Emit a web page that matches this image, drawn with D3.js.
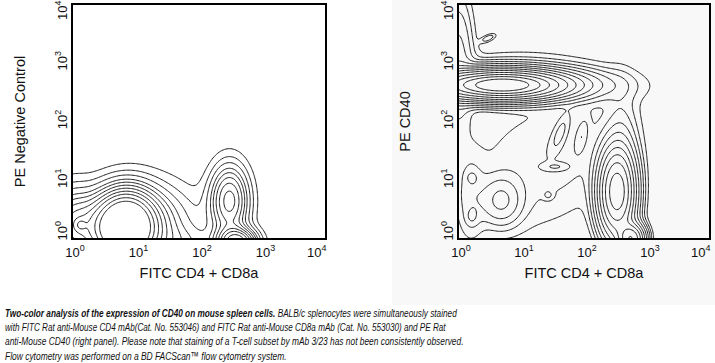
<!DOCTYPE html>
<html>
<head>
<meta charset="utf-8">
<script src="https://cdn.jsdelivr.net/npm/d3@7"></script>
<style>
  body { margin: 0; background: #fff; }
  svg { display: block; font-family: "Liberation Sans", Arial, sans-serif; }
</style>
</head>
<body>
<script>
// Two flow cytometry contour panels (log decades 10^0 .. 10^4)

const w = 715;
const h = 363;

const tickValues = [1, 10, 100, 1000, 10000];
const tickExponents = ["0", "1", "2", "3", "4"];

const xTitle = "FITC CD4 + CD8a";
const yTitles = ["PE Negative Control", "PE CD40"];

// cell populations, in log10 units:
// [centre x, centre y, spread x, spread y, peak height, correlation]
const leftPops = [
  [0.85, 0.20, 0.30, 0.40, 0.70, 0],
  [0.70, 0.20, 0.65, 0.40, 0.30, 0],
  [0.00, 0.30, 0.20, 0.40, 0.12, 0],
  [0.13, 0.24, 0.06, 0.07, 0.08, 0],
  [1.35, 0.50, 0.45, 0.45, 0.045, 0],
  [2.48, 0.65, 0.20, 0.40, 0.35, 0],
  [2.60, -0.05, 0.20, 0.15, 0.50, 0],
  [1.80, -0.10, 0.35, 0.20, 0.08, 0]
];

const rightPops = [
  [0.70, 2.62, 0.58, 0.14, 1.00, 0],
  [0.90, 2.80, 0.70, 0.25, 0.010, 0],
  [0.00, 3.00, 0.15, 0.70, 0.030, 0],
  [0.48, 3.42, 0.08, 0.05, 0.012, 0.6],
  [2.00, 2.62, 0.55, 0.18, 0.015, 0],
  [1.30, 1.40, 0.90, 0.80, 0.012, 0.3],
  [2.60, 1.30, 0.15, 0.70, 0.020, 0],
  [2.52, 0.80, 0.16, 0.42, 0.40, 0],
  [2.75, 0.00, 0.12, 0.15, 0.30, 0],
  [0.68, 0.65, 0.20, 0.25, 0.040, 0],
  [0.20, 0.70, 0.15, 0.50, 0.015, 0],
  [0.22, 1.05, 0.06, 0.07, 0.012, 0],
  [0.22, 0.38, 0.06, 0.09, 0.012, 0],
  [1.43, 0.75, 0.05, 0.05, 0.010, 0],
  [1.62, 1.80, 0.10, 0.22, 0.020, 0.7],
  [1.96, 1.74, 0.07, 0.20, 0.015, 0.5],
  [1.55, 1.23, 0.14, 0.05, 0.015, 0]
];

// contour levels (relative to the tallest population)
const leftLevels = [0.03, 0.06, 0.094, 0.135, 0.172, 0.216, 0.267, 0.325, 0.389, 0.472, 0.561];
const rightLevels = [0.004, 0.008, 0.014, 0.024, 0.04, 0.065, 0.1, 0.15, 0.22, 0.32, 0.45, 0.6, 0.78];

const captionLines = [
  [["Two-color analysis of the expression of CD40 on mouse spleen cells.", true],
   [" BALB/c splenocytes were simultaneously stained", false]],
  [["with FITC Rat anti-Mouse CD4 mAb(Cat. No. 553046) and FITC Rat anti-Mouse CD8a mAb (Cat. No. 553030) and PE Rat", false]],
  [["anti-Mouse CD40 (right panel). Please note that staining of a T-cell subset by mAb 3/23 has not been consistently observed.", false]],
  [["Flow cytometry was performed on a BD FACScan\u2122 flow cytometry system.", false]]
];
const captionWidths = [452, 441, 459, 282];

const svg = d3.select("body")
  .append("svg")
  .attr("width", w)
  .attr("height", h);

// faint grey backdrop behind the right image
svg.append("rect")
  .attr("x", 392).attr("y", 0)
  .attr("width", w - 392).attr("height", 305)
  .attr("fill", "#f8f8f8");

const panels = [
  { left: 72, right: 326, top: 4, bottom: 239, pops: leftPops, levels: leftLevels, yTitle: yTitles[0], titleX: 20 },
  { left: 458, right: 710, top: 4, bottom: 239, pops: rightPops, levels: rightLevels, yTitle: yTitles[1], titleX: 405 }
];

const n = 201;
const step = 4 / (n - 1);

function density(pops, lx, ly) {
  let s = 0;
  for (const [cx, cy, sx, sy, a, r] of pops) {
    const u = (lx - cx) / sx, v = (ly - cy) / sy;
    const q = (u * u - 2 * r * u * v + v * v) / (1 - r * r);
    s += a * Math.exp(-0.5 * q);
  }
  return s;
}

function tenTo(sel) {
  sel.each(function(d) {
    const t = d3.select(this);
    t.append("tspan").text("10");
    t.append("tspan").attr("font-size", 9).attr("dy", -6)
      .text(tickExponents[tickValues.indexOf(d)]);
  });
}

panels.forEach((p, i) => {
  const x_scale = d3.scaleLog().domain([1, 10000]).range([p.left, p.right]);
  const y_scale = d3.scaleLog().domain([1, 10000]).range([p.bottom, p.top]);

  const values = new Array(n * n);
  for (let j = 0; j < n; j++) {
    for (let k = 0; k < n; k++) {
      values[j * n + k] = density(p.pops, k * step, j * step);
    }
  }

  const contours = d3.contours().size([n, n]).thresholds(p.levels)(values);

  const proj = d3.geoTransform({
    point(gx, gy) {
      this.stream.point(x_scale(Math.pow(10, (gx - 0.5) * step)),
                        y_scale(Math.pow(10, (gy - 0.5) * step)));
    }
  });
  const path = d3.geoPath(proj);

  svg.append("clipPath").attr("id", "clip" + i)
    .append("rect")
    .attr("x", p.left).attr("y", p.top)
    .attr("width", p.right - p.left).attr("height", p.bottom - p.top);

  svg.append("g")
    .attr("clip-path", `url(#clip${i})`)
    .selectAll("path")
    .data(contours)
    .enter()
    .append("path")
    .attr("d", path)
    .attr("fill", "none")
    .attr("stroke", "#1e1e1e")
    .attr("stroke-width", 1);

  svg.append("rect")
    .attr("x", p.left).attr("y", p.top)
    .attr("width", p.right - p.left).attr("height", p.bottom - p.top)
    .attr("fill", "none")
    .attr("stroke", "#000")
    .attr("stroke-width", 2);

  const x_axis = d3.axisBottom(x_scale).tickValues(tickValues).tickSize(0).tickFormat(() => "");
  const y_axis = d3.axisLeft(y_scale).tickValues(tickValues).tickSize(0).tickFormat(() => "");

  const gx = svg.append("g")
    .attr("class", "x axis")
    .attr("transform", `translate(0,${p.bottom})`)
    .call(x_axis);
  const gy = svg.append("g")
    .attr("class", "y axis")
    .attr("transform", `translate(${p.left},0)`)
    .call(y_axis);
  svg.selectAll(".axis .domain").remove();

  gx.selectAll(".tick text")
    .attr("y", 18).attr("dy", 0)
    .attr("x", d => d === 10000 ? 0 : 2.5)
    .attr("font-size", 13).attr("fill", "#111")
    .attr("text-anchor", d => d === 10000 ? "end" : "middle")
    .call(tenTo);

  // rotated labels; the end ones are pulled inside the frame
  gy.selectAll(".tick text")
    .attr("x", d => d === 10000 ? 4 : d === 1 ? -1 : 2.5)
    .attr("y", 0).attr("dy", 0)
    .attr("transform", "translate(-5,0) rotate(-90)")
    .attr("font-size", 13).attr("fill", "#111")
    .attr("text-anchor", d => d === 10000 ? "end" : d === 1 ? "start" : "middle")
    .call(tenTo);

  svg.append("text")
    .attr("x", (p.left + p.right) / 2)
    .attr("y", 278)
    .attr("text-anchor", "middle")
    .attr("font-size", 14.5)
    .attr("fill", "#111")
    .text(xTitle);

  svg.append("text")
    .attr("transform", `translate(${p.titleX + 5},${(p.top + p.bottom) / 2}) rotate(-90)`)
    .attr("text-anchor", "middle")
    .attr("font-size", 14.5)
    .attr("fill", "#111")
    .text(p.yTitle);
});

// caption, squeezed horizontally like the narrow face of the original
const caption = svg.append("g")
  .attr("font-size", 11.5)
  .attr("font-style", "italic")
  .attr("fill", "#111");

captionLines.forEach((line, k) => {
  const t = caption.append("text")
    .attr("x", 0)
    .attr("y", 0);
  line.forEach(([str, bold]) => {
    t.append("tspan")
      .attr("font-weight", bold ? "bold" : "normal")
      .text(str);
  });
  const len = t.node().getComputedTextLength();
  t.attr("transform", `translate(5,${317 + k * 14.2}) scale(${captionWidths[k] / len},1)`);
});
</script>
</body>
</html>
